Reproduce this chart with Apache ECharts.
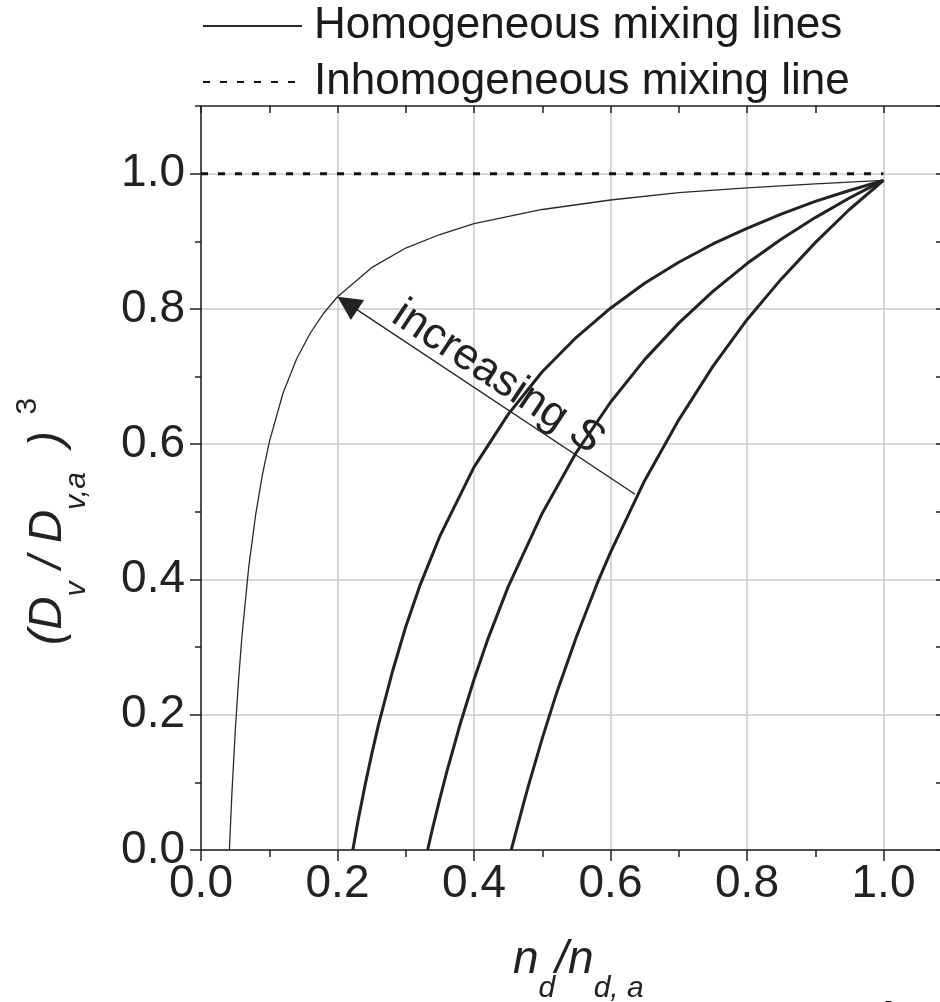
<!DOCTYPE html>
<html><head><meta charset="utf-8">
<script src="https://cdn.jsdelivr.net/npm/echarts@6/dist/echarts.min.js"></script>
<style>html,body{margin:0;padding:0;background:#fff}#c{width:940px;height:1002px}</style>
</head><body><div id="c"></div>
<script>
// ---- data ----
const xTickValues = [0, 0.2, 0.4, 0.6, 0.8, 1.0];
const yTickValues = [0, 0.2, 0.4, 0.6, 0.8, 1.0];
const legendNames = ['Homogeneous mixing lines', 'Inhomogeneous mixing line'];
const homThin = [[0.0416,0],[0.045,0.078],[0.05,0.173],[0.055,0.251],[0.06,0.316],[0.07,0.419],[0.08,0.495],[0.09,0.555],[0.10,0.603],[0.12,0.675],[0.14,0.726],[0.16,0.764],[0.18,0.794],[0.20,0.818],[0.25,0.861],[0.30,0.890],[0.35,0.910],[0.40,0.926],[0.50,0.947],[0.60,0.961],[0.70,0.972],[0.80,0.979],[0.90,0.985],[1.00,0.99]];
const homS1 = [[0.2224,0],[0.23,0.043],[0.24,0.094],[0.25,0.141],[0.26,0.185],[0.28,0.262],[0.30,0.330],[0.32,0.389],[0.35,0.464],[0.40,0.566],[0.45,0.644],[0.50,0.707],[0.55,0.758],[0.60,0.801],[0.65,0.838],[0.70,0.869],[0.75,0.896],[0.80,0.919],[0.85,0.940],[0.90,0.959],[0.95,0.975],[1.00,0.99]];
const homS2 = [[0.332,0],[0.34,0.035],[0.35,0.076],[0.36,0.115],[0.38,0.187],[0.40,0.252],[0.42,0.311],[0.45,0.389],[0.50,0.498],[0.55,0.588],[0.60,0.662],[0.65,0.725],[0.70,0.779],[0.75,0.826],[0.80,0.867],[0.85,0.903],[0.90,0.935],[0.95,0.964],[1.00,0.99]];
const homS3 = [[0.4545,0],[0.46,0.021],[0.47,0.059],[0.48,0.096],[0.50,0.165],[0.52,0.229],[0.55,0.315],[0.58,0.393],[0.60,0.440],[0.65,0.546],[0.70,0.636],[0.75,0.715],[0.80,0.784],[0.85,0.844],[0.90,0.898],[0.95,0.947],[1.00,0.99]];
const inhomLine = [[0, 1.0], [1.0, 1.0]];
const arrowTail = [0.636, 0.526];
const arrowTip = [0.2, 0.818];
const arrowLabel = 'increasing ';
const arrowLabelItalic = 'S';

const FONT = '"Liberation Sans", Arial, Helvetica, sans-serif';
const INK = '#222';
const chart = echarts.init(document.getElementById('c'), null, {renderer: 'canvas'});

const fmt = v => v.toFixed(1);
const axisLineStyle = {color: INK, width: 1.5};

const option = {
  animation: false,
  backgroundColor: '#fff',
  textStyle: {fontFamily: FONT},
  grid: {left: 201, top: 106, width: 819, height: 744, containLabel: false, outerBoundsMode: 'none'},
  legend: {
    data: legendNames,
    orient: 'vertical',
    left: 202, top: 4,
    padding: 0,
    itemWidth: 99, itemHeight: 14, itemGap: 12,
    selectedMode: false,
    itemStyle: {opacity: 0},
    textStyle: {fontSize: 44, color: '#1a1a1a', fontFamily: FONT, padding: [0, 0, 0, 7]}
  },
  xAxis: [
    {
      type: 'value', position: 'bottom', min: 0, max: 1.2, interval: 0.2,
      axisLine: {show: true, onZero: false, lineStyle: axisLineStyle},
      axisTick: {show: true, length: 11, lineStyle: axisLineStyle},
      minorTick: {show: true, splitNumber: 2, length: 7, lineStyle: axisLineStyle},
      axisLabel: {fontSize: 46, color: INK, margin: 11, fontFamily: FONT, formatter: fmt},
      splitLine: {show: true, lineStyle: {color: '#cbcbcb', width: 1.5}}
    },
    {
      type: 'value', position: 'top', min: 0, max: 1.2, interval: 0.1,
      axisLine: {show: true, onZero: false, lineStyle: axisLineStyle},
      axisTick: {show: true, inside: true, length: 7, lineStyle: axisLineStyle},
      axisLabel: {show: false}, splitLine: {show: false}
    }
  ],
  yAxis: [
    {
      type: 'value', position: 'left', min: 0, max: 1.1, interval: 0.2,
      axisLine: {show: true, onZero: false, lineStyle: axisLineStyle},
      axisTick: {show: true, length: 11, lineStyle: axisLineStyle, customValues: yTickValues},
      axisLabel: {fontSize: 46, color: INK, margin: 16, fontFamily: FONT, formatter: fmt,
                  customValues: yTickValues, padding: [0, 0, 7, 0]},
      splitLine: {show: true, lineStyle: {color: '#cbcbcb', width: 1.5}}
    },
    {
      type: 'value', position: 'left', min: 0, max: 1.1, interval: 0.1,
      axisLine: {show: false, onZero: false},
      axisTick: {show: true, length: 6, lineStyle: axisLineStyle},
      axisLabel: {show: false}, splitLine: {show: false}
    },
    {
      type: 'value', position: 'right', offset: -76, min: 0, max: 1.1, interval: 0.1,
      axisLine: {show: true, onZero: false, lineStyle: axisLineStyle},
      axisTick: {show: true, inside: true, length: 8, lineStyle: axisLineStyle},
      axisLabel: {show: false}, splitLine: {show: false}
    }
  ],
  series: [
    {name: legendNames[0], type: 'line', data: homThin, symbol: 'none', showSymbol: false, z: 3,
     lineStyle: {color: '#2a2a2a', width: 1.3}, itemStyle: {color: '#2a2a2a'}},
    {name: 'S1', type: 'line', data: homS1, symbol: 'none', z: 3,
     lineStyle: {color: INK, width: 3}, itemStyle: {color: INK}},
    {name: 'S2', type: 'line', data: homS2, symbol: 'none', z: 3,
     lineStyle: {color: INK, width: 3}, itemStyle: {color: INK}},
    {name: 'S3', type: 'line', data: homS3, symbol: 'none', z: 3,
     lineStyle: {color: INK, width: 3}, itemStyle: {color: INK}},
    {name: legendNames[1], type: 'line', data: inhomLine, symbol: 'none', showSymbol: false, z: 4,
     lineStyle: {color: '#111', width: 3, type: [7, 10]}, itemStyle: {color: '#111'}}
  ]
};
chart.setOption(option);

// arrow + annotations positioned from data coordinates
const tipPx = chart.convertToPixel({xAxisIndex: 0, yAxisIndex: 0}, arrowTip);
const tailPx = chart.convertToPixel({xAxisIndex: 0, yAxisIndex: 0}, arrowTail);
const dx = tailPx[0] - tipPx[0], dy = tailPx[1] - tipPx[1];
const L = Math.hypot(dx, dy), ux = dx / L, uy = dy / L;
const headLen = 24;
const headCenter = chart.convertFromPixel({xAxisIndex: 0, yAxisIndex: 0},
  [tipPx[0] + ux * headLen / 2, tipPx[1] + uy * headLen / 2]);
const labAlong = 178, labNormal = 21;
const labX = tipPx[0] + ux * labAlong + uy * labNormal;
const labY = tipPx[1] + uy * labAlong - ux * labNormal;

chart.setOption({
  series: [
    {name: legendNames[0]}, {name: 'S1'}, {name: 'S2'}, {name: 'S3'}, {name: legendNames[1]},
    {name: 'arrow', type: 'lines', coordinateSystem: 'cartesian2d', xAxisIndex: 0, yAxisIndex: 0,
     z: 6, symbol: ['none', 'triangle'], symbolSize: [15, headLen],
     lineStyle: {color: INK, width: 1.3, opacity: 1},
     data: [{coords: [arrowTail, headCenter]}]}
  ],
  graphic: [
    {type: 'text', x: labX, y: labY, rotation: -Math.atan2(uy, ux), z: 10,
     style: {text: '{r|' + arrowLabel + '}{i|' + arrowLabelItalic + '}', align: 'center', verticalAlign: 'middle',
       rich: {r: {fontSize: 44, fontFamily: FONT, fill: INK},
              i: {fontSize: 44, fontFamily: FONT, fontStyle: 'italic', fill: INK}}}},
    // x axis title
    {type: 'text', x: 513, y: 937, z: 10,
     style: {text: '{m|n}{s|d}{m|/n}{s|d, a}', align: 'left', verticalAlign: 'top',
       rich: {m: {fontSize: 46, lineHeight: 46, fontStyle: 'italic', fontFamily: FONT, fill: INK, verticalAlign: 'top'},
              s: {fontSize: 30, lineHeight: 30, fontStyle: 'italic', fontFamily: FONT, fill: INK, verticalAlign: 'top', padding: [37, 0, 0, 0]}}}},
    // y axis title (rotated)
    {type: 'text', x: 13, y: 645, rotation: Math.PI / 2, z: 10,
     style: {text: '{m|(D}{s|v}{m| / D}{s|v,a}{m|  )}{p|  3}', align: 'left', verticalAlign: 'top',
       rich: {m: {fontSize: 46, lineHeight: 46, fontStyle: 'italic', fontFamily: FONT, fill: INK, verticalAlign: 'top', padding: [12, 0, 0, 0]},
              s: {fontSize: 30, lineHeight: 30, fontStyle: 'italic', fontFamily: FONT, fill: INK, verticalAlign: 'top', padding: [49, 0, 0, 0]},
              p: {fontSize: 30, lineHeight: 30, fontFamily: FONT, fill: INK, verticalAlign: 'top'}}}},
    // partial panel number at bottom right
    {type: 'text', x: 871, y: 995, z: 10,
     style: {text: '1', fontSize: 60, fontFamily: FONT, fill: '#000', align: 'left', verticalAlign: 'top'}}
  ]
});
</script></body></html>
